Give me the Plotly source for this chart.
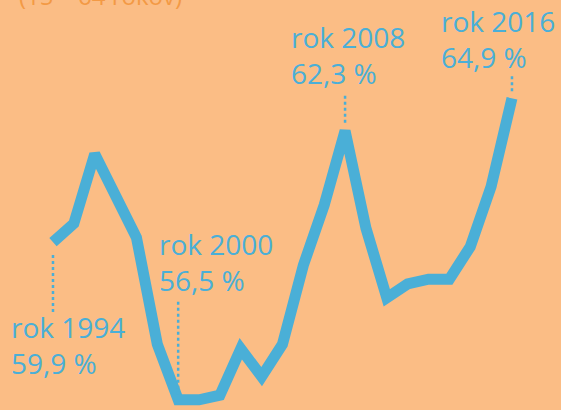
import plotly.graph_objects as go

# employment rate (15-64)
years = list(range(1994, 2017))
rate = [59.9, 60.3, 61.8, 60.9, 60.0, 57.7, 56.5, 56.5, 56.6, 57.6, 57.0, 57.7,
        59.4, 60.7, 62.3, 60.2, 58.7, 59.0, 59.1, 59.1, 59.8, 61.1, 63.0]

label_years = [1994, 2000, 2008, 2016]
label_texts = ["59,9 %", "56,5 %", "62,3 %", "64,9 %"]

BG = "#FBBD85"
BLUE = "#4AAFD7"
FONT = "Open Sans"

fig = go.Figure()
fig.add_trace(go.Scatter(
    x=years, y=rate, mode="lines",
    line=dict(color=BLUE, width=11),
    hoverinfo="skip", showlegend=False
))

# label placement: (xshift, yshift of box top, leader y0, leader y1) in pixels
placement = {
    1994: (-44, -64, -13, -72),
    2000: (-21, 177, 5, 98),
    2008: (-56, 115, 8, 36),
    2016: (-73, 98, 7, 25),
}

for yr, txt in zip(label_years, label_texts):
    v = rate[years.index(yr)]
    xs, ys, l0, l1 = placement[yr]
    fig.add_annotation(
        x=yr, y=v, xref="x", yref="y",
        text=f"rok {yr}<br>{txt}",
        showarrow=False, xanchor="left", yanchor="top", align="left",
        xshift=xs, yshift=ys,
        font=dict(family=FONT, size=28, color=BLUE)
    )
    fig.add_shape(
        type="line", xref="x", yref="y", ysizemode="pixel",
        x0=yr, x1=yr, yanchor=v, y0=l0, y1=l1,
        line=dict(color=BLUE, width=2.5, dash="dot")
    )

# subtitle, mostly cut off at the top edge
fig.add_annotation(
    text="(15 – 64 rokov)", xref="paper", yref="paper",
    x=17 / 561, y=1 - 14 / 410, xanchor="left", yanchor="bottom",
    showarrow=False, font=dict(family=FONT, size=24, color="#F39A45")
)

fig.update_layout(
    width=561, height=410,
    paper_bgcolor=BG, plot_bgcolor=BG,
    margin=dict(l=0, r=0, t=0, b=0),
    xaxis=dict(range=[1991.46, 2018.35], visible=False, fixedrange=True),
    yaxis=dict(range=[56.28, 65.12], visible=False, fixedrange=True),
    showlegend=False
)

fig.write_html("out.html", config=dict(displayModeBar=False),
               post_script="document.body.style.margin='0';")
